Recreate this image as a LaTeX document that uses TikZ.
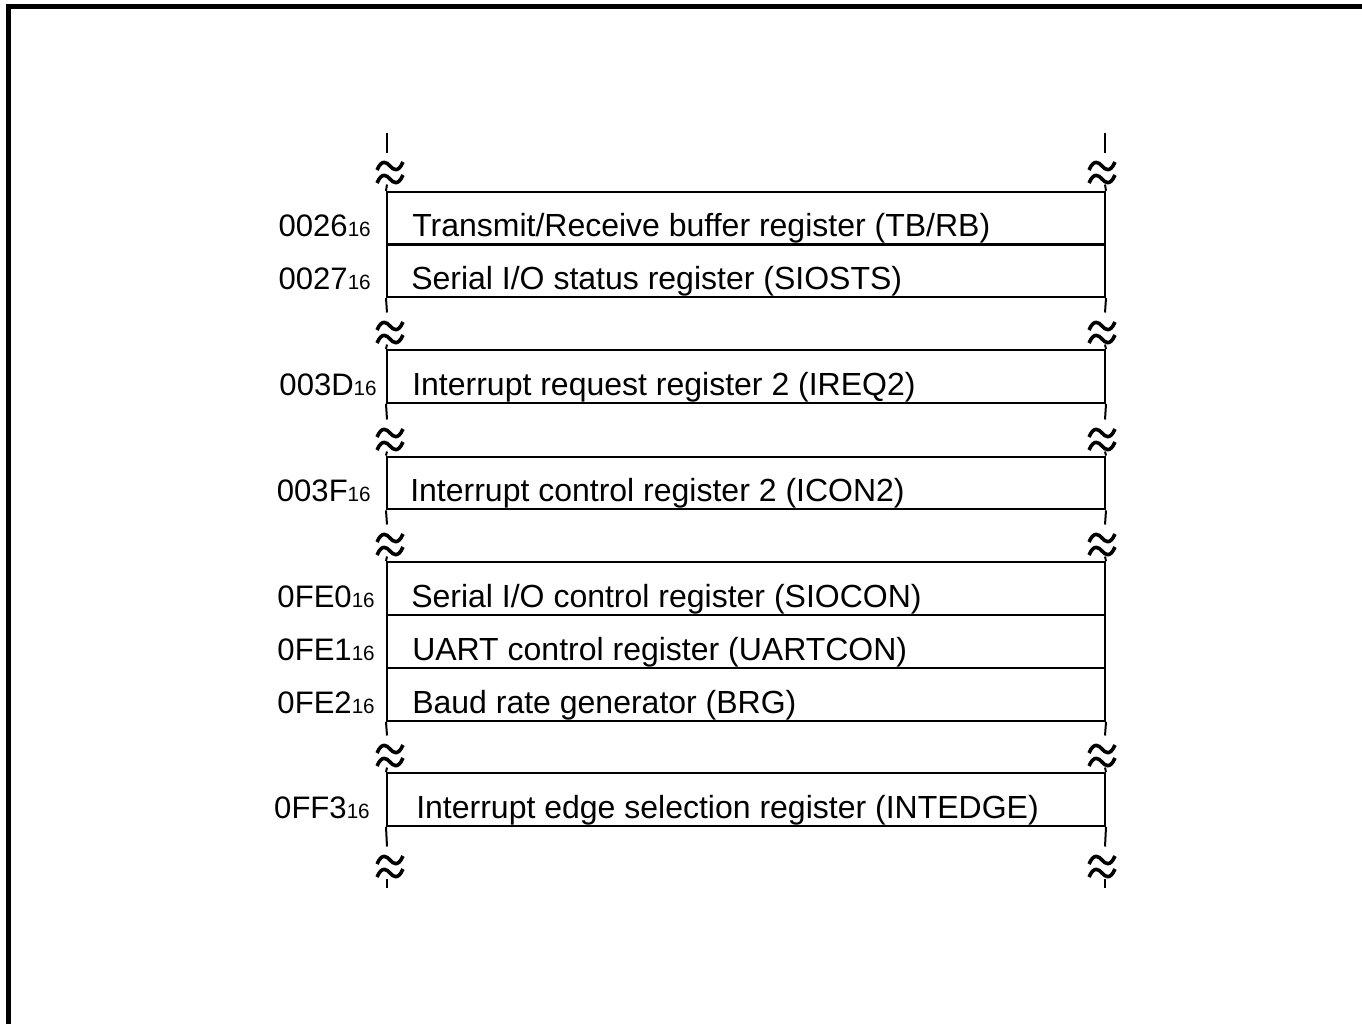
\documentclass[tikz,border=0pt]{standalone}
\usepackage{fontspec}
\setmainfont{Liberation Sans}
\usetikzlibrary{calc}

\tikzset{
    regbox/.style={draw, line width=1.5pt, minimum width=538.5pt, minimum height=39.6pt, inner sep=0pt},
    regname/.style={anchor=base west, inner sep=0pt, font=\fontsize{24}{28}\selectfont},
    regaddr/.style={anchor=base east, inner sep=0pt, font=\fontsize{23.3}{27}\selectfont},
    sideline/.style={line width=1.5pt},
    brkmark/.pic={
        \draw[line width=2.7pt] (-13,-2.5) .. controls (-8,-14) and (-3,-10) .. (0,-6.5) .. controls (3,-3) and (8,1) .. (13,-10.5);
        \draw[line width=2.7pt] (-13,10.5) .. controls (-8,-1) and (-3,3) .. (0,6.5) .. controls (3,10) and (8,14) .. (13,2.5);
    }
}
\newcommand{\hexsub}[1]{#1{\fontsize{15.5}{15.5}\selectfont 16}}

\begin{document}
\begin{tikzpicture}[x=0.75pt, y=-0.75pt]
\useasboundingbox (0,0) rectangle (1362,1024);

% frame
\draw[line width=4.1pt] (8.5,1024) -- (8.5,6.7) -- (1362,6.7);

% register rows
\node[regbox] (r1) at (746,218.2) {};
\node[regbox] (r2) at (746,270.6) {};
\node[regbox] (r3) at (746,376.5) {};
\node[regbox] (r4) at (746,483) {};
\node[regbox] (r5) at (746,588.5) {};
\node[regbox] (r6) at (746,641.5) {};
\node[regbox] (r7) at (746,694.5) {};
\node[regbox] (r8) at (746,799.5) {};

% register names
\node[regname] (n1) at ($(r1.west)+(26,18.5)$) {Transmit/Receive buffer register (TB/RB)};
\node[regname] (n2) at ($(r2.west)+(25,18.5)$) {Serial I/O status register (SIOSTS)};
\node[regname] (n3) at ($(r3.west)+(26,18.5)$) {Interrupt request register 2 (IREQ2)};
\node[regname] (n4) at ($(r4.west)+(24,18.5)$) {Interrupt control register 2 (ICON2)};
\node[regname] (n5) at ($(r5.west)+(25,18.5)$) {Serial I/O control register (SIOCON)};
\node[regname] (n6) at ($(r6.west)+(26,18.5)$) {UART control register (UARTCON)};
\node[regname] (n7) at ($(r7.west)+(26,18.5)$) {Baud rate generator (BRG)};
\node[regname] (n8) at ($(r8.west)+(30,18.5)$) {Interrupt edge selection register (INTEDGE)};

% addresses
\node[regaddr] (a1) at ($(r1.west)+(-15,18.5)$) {\hexsub{0026}};
\node[regaddr] (a2) at ($(r2.west)+(-15,18.5)$) {\hexsub{0027}};
\node[regaddr] (a3) at ($(r3.west)+(-9,18.5)$) {\hexsub{003D}};
\node[regaddr] (a4) at ($(r4.west)+(-15,18.5)$) {\hexsub{003F}};
\node[regaddr] (a5) at ($(r5.west)+(-11,18.5)$) {\hexsub{0FE0}};
\node[regaddr] (a6) at ($(r6.west)+(-11,18.5)$) {\hexsub{0FE1}};
\node[regaddr] (a7) at ($(r7.west)+(-11,18.5)$) {\hexsub{0FE2}};
\node[regaddr] (a8) at ($(r8.west)+(-16,18.5)$) {\hexsub{0FF3}};

% break points
\coordinate (lb0) at (387,172.5);  \coordinate (rb0) at (1105,172.5);
\coordinate (lb1) at (387,332.5);  \coordinate (rb1) at (1105,332.5);
\coordinate (lb2) at (387,439.5);  \coordinate (rb2) at (1105,439.5);
\coordinate (lb3) at (387,544.5);  \coordinate (rb3) at (1105,544.5);
\coordinate (lb4) at (387,755.5);  \coordinate (rb4) at (1105,755.5);
\coordinate (lb5) at (387,866.5);  \coordinate (rb5) at (1105,866.5);

\foreach \b in {lb0,lb1,lb2,lb3,lb4,lb5}
    \pic at ($(\b)+(3,0)$) {brkmark};
\foreach \b in {rb0,rb1,rb2,rb3,rb4,rb5}
    \pic at ($(\b)+(-3,0)$) {brkmark};

% side lines
\draw[sideline] ($(lb0)+(0,-40)$) -- ($(lb0)+(0,-20)$);
\draw[sideline] ($(rb0)+(0,-40)$) -- ($(rb0)+(0,-20)$);
\draw[sideline] ($(lb0)+(0,12)$) -- (r1.north west);
\draw[sideline] ($(rb0)+(0,12)$) -- (r1.north east);
\draw[sideline] (r2.south west) -- ($(lb1)+(0,-20)$);
\draw[sideline] (r2.south east) -- ($(rb1)+(0,-20)$);
\draw[sideline] ($(lb1)+(0,12)$) -- (r3.north west);
\draw[sideline] ($(rb1)+(0,12)$) -- (r3.north east);
\draw[sideline] (r3.south west) -- ($(lb2)+(0,-20)$);
\draw[sideline] (r3.south east) -- ($(rb2)+(0,-20)$);
\draw[sideline] ($(lb2)+(0,12)$) -- (r4.north west);
\draw[sideline] ($(rb2)+(0,12)$) -- (r4.north east);
\draw[sideline] (r4.south west) -- ($(lb3)+(0,-20)$);
\draw[sideline] (r4.south east) -- ($(rb3)+(0,-20)$);
\draw[sideline] ($(lb3)+(0,12)$) -- (r5.north west);
\draw[sideline] ($(rb3)+(0,12)$) -- (r5.north east);
\draw[sideline] (r7.south west) -- ($(lb4)+(0,-20)$);
\draw[sideline] (r7.south east) -- ($(rb4)+(0,-20)$);
\draw[sideline] ($(lb4)+(0,12)$) -- (r8.north west);
\draw[sideline] ($(rb4)+(0,12)$) -- (r8.north east);
\draw[sideline] (r8.south west) -- ($(lb5)+(0,-20)$);
\draw[sideline] (r8.south east) -- ($(rb5)+(0,-20)$);
\draw[sideline] ($(lb5)+(0,12)$) -- ($(lb5)+(0,21)$);
\draw[sideline] ($(rb5)+(0,12)$) -- ($(rb5)+(0,21)$);
\end{tikzpicture}
\end{document}
